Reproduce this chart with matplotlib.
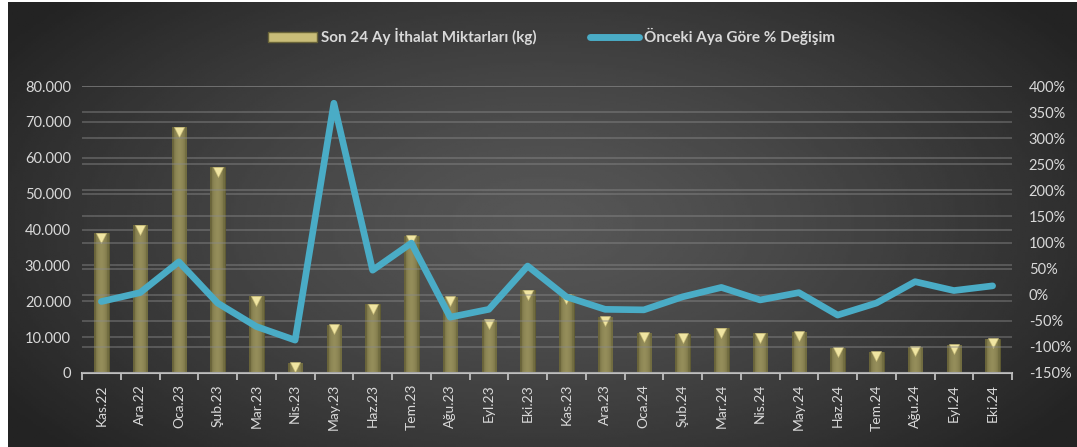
import numpy as np
import matplotlib
matplotlib.use('Agg')
import matplotlib.pyplot as plt
import matplotlib.transforms as mtrans
from matplotlib.ticker import FuncFormatter, MultipleLocator
from matplotlib.patches import Rectangle
from matplotlib.lines import Line2D

plt.rcParams['font.family'] = ['Lato', 'DejaVu Sans']

months = ['Kas.22', 'Ara.22', 'Oca.23', 'Şub.23', 'Mar.23', 'Nis.23', 'May.23', 'Haz.23',
          'Tem.23', 'Ağu.23', 'Eyl.23', 'Eki.23', 'Kas.23', 'Ara.23', 'Oca.24', 'Şub.24',
          'Mar.24', 'Nis.24', 'May.24', 'Haz.24', 'Tem.24', 'Ağu.24', 'Eyl.24', 'Eki.24']
imports_kg = [39000, 41200, 68500, 57400, 21400, 2800, 13400, 19200,
              38200, 21200, 14800, 23100, 22000, 15700, 11200, 10900,
              12500, 11100, 11500, 7000, 5900, 7300, 7800, 9500]
change_pct = [-13, 4, 63, -16, -61, -87, 367, 47,
              99, -43, -28, 55, -4, -28, -29, -4,
              14, -10, 4, -39, -16, 25, 8, 17]

bar_label = 'Son 24 Ay İthalat Miktarları (kg)'
line_label = 'Önceki Aya Göre % Değişim'

txt = '#d9d9d9'
blue = '#4aacc6'

fig = plt.figure(figsize=(10.77, 4.47), dpi=100, facecolor='white')

# dark radial background of the chart area
bg = fig.add_axes([8 / 1077, 0, 1 - 8 / 1077, 1 - 2 / 447])
yy, xx = np.mgrid[0:1:200j, 0:1:400j]
r = np.sqrt(((xx - 0.5) / 0.6) ** 2 + ((yy - 0.5) / 0.75) ** 2)
bg.imshow(0.34 - 0.2 * np.clip(r, 0, 1) ** 1.3, cmap='gray', vmin=0, vmax=1,
          aspect='auto', extent=[0, 1, 0, 1])
bg.axis('off')

ax = fig.add_axes([82 / 1077, 1 - 373 / 447, 930 / 1077, 287 / 447])
ax.set_facecolor('none')
ax2 = ax.twinx()
ax.set_zorder(2)
ax2.set_zorder(3)

x = np.arange(len(months))

# grid lines of both axes
ax.set_ylim(0, 80000)
ax.yaxis.set_major_locator(MultipleLocator(10000))
ax2.set_ylim(-150, 400)
ax2.yaxis.set_major_locator(MultipleLocator(50))
ax.grid(axis='y', color='#8a8a8a', lw=1.2, alpha=0.5, zorder=0)
ax2.grid(axis='y', color='#8a8a8a', lw=1.2, alpha=0.5, zorder=0)
ax.set_axisbelow(True)

bars = ax.bar(x, imports_kg, width=0.38, color='#8c8552', edgecolor='#5e5a30', lw=0.6, zorder=2)
grad = np.array([[0.0, 0.7, 0.9, 1.0, 0.9, 0.7, 0.2]])
cm = matplotlib.colors.LinearSegmentedColormap.from_list('g', ['#69643a', '#958e5b'])
for b in bars:
    bx, by = b.get_x(), b.get_y()
    im = ax.imshow(grad, cmap=cm, aspect='auto', zorder=2.5,
                   extent=[bx, bx + b.get_width(), by, by + b.get_height()])
    im.set_clip_path(b)
# bevelled top of each bar
down = mtrans.offset_copy(ax.transData, fig=fig, x=0, y=-3.2, units='points')
ax.plot(x, imports_kg, 'v', color='#f0e5a2', ms=6.5, mec='#c9bd78', mew=0.4,
        transform=down, zorder=3)
ax.set_xlim(-0.5, len(months) - 0.5)

ax2.plot(x, change_pct, color=blue, lw=4.8, solid_capstyle='round', solid_joinstyle='round', zorder=4)

ax.yaxis.set_major_formatter(FuncFormatter(lambda v, p: f'{v:,.0f}'.replace(',', '.')))
ax2.yaxis.set_major_formatter(FuncFormatter(lambda v, p: f'{v:.0f}%'))

ax.set_xticks(x)
ax.set_xticklabels(months, rotation=90, color=txt, fontsize=10)
ax.set_xticks(np.arange(len(months) + 1) - 0.5, minor=True)
ax.tick_params(axis='x', which='major', length=0, pad=8)
ax.tick_params(axis='x', which='minor', length=5, width=1.3, color='#bfbfbf', direction='out')
ax.tick_params(axis='y', length=0, labelcolor=txt, labelsize=10.5, pad=8)
ax2.tick_params(axis='y', length=0, labelcolor=txt, labelsize=10.5, pad=12)

for a in (ax, ax2):
    for s in ('top', 'left', 'right'):
        a.spines[s].set_visible(False)
ax2.spines['bottom'].set_visible(False)
ax.spines['bottom'].set_color('#bfbfbf')
ax.spines['bottom'].set_linewidth(1.5)

handles = [Rectangle((0, 0), 1, 1, facecolor='#c9bd78', edgecolor='#6a653a'),
           Line2D([], [], color=blue, lw=5, solid_capstyle='round')]
leg = fig.legend(handles, [bar_label, line_label], loc='center', bbox_to_anchor=(0.512, 0.918),
                 ncol=2, frameon=False, handlelength=3.2, handletextpad=0.3, columnspacing=3.5,
                 prop={'weight': 'bold', 'size': 11})
for t in leg.get_texts():
    t.set_color(txt)

fig.savefig('out.png', dpi=100, facecolor=fig.get_facecolor())
